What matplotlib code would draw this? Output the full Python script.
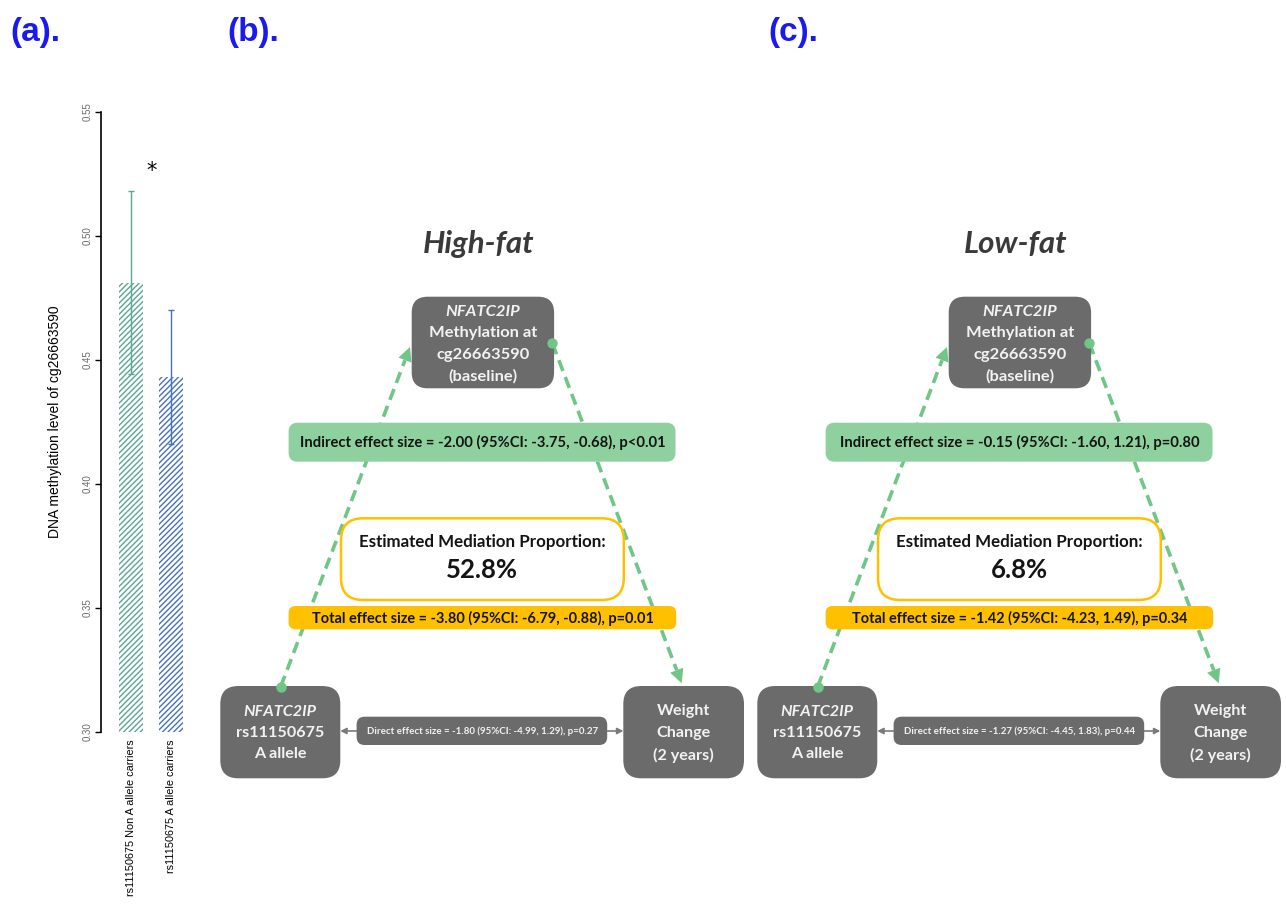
import numpy as np
import matplotlib
matplotlib.use("Agg")
import matplotlib.pyplot as plt
from matplotlib.patches import FancyBboxPatch, Polygon

plt.rcParams['hatch.linewidth'] = 1.0

# panel (a) data
groups = ["rs11150675 Non A allele carriers", "rs11150675 A allele carriers"]
meth_mean = [0.481, 0.443]
meth_err = [0.037, 0.027]
yticks = [0.30, 0.35, 0.40, 0.45, 0.50, 0.55]

# panels (b), (c) data
diets = ["High-fat", "Low-fat"]
indirect = [-2.00, -0.15]
indirect_ci = [(-3.75, -0.68), (-1.60, 1.21)]
indirect_p = ["p<0.01", "p=0.80"]
total = [-3.80, -1.42]
total_ci = [(-6.79, -0.88), (-4.23, 1.49)]
total_p = ["p=0.01", "p=0.34"]
direct = [-1.80, -1.27]
direct_ci = [(-4.99, 1.29), (-4.45, 1.83)]
direct_p = ["p=0.27", "p=0.44"]
mediation_pct = [52.8, 6.8]

W, H = 1286, 908
fig = plt.figure(figsize=(W / 100, H / 100), dpi=100)

# ---------------- (a) bar chart
ax = fig.add_axes([101 / W, 1 - 731.5 / H, 100 / W, 619.8 / H])
x = np.arange(len(groups))
bar_colors = ['#5aa88e', '#4671c0']
for i in range(len(groups)):
    ax.bar(x[i], meth_mean[i], width=0.615, color='none', edgecolor=bar_colors[i],
           hatch='//////', linewidth=0)
    ax.errorbar(x[i], meth_mean[i], yerr=meth_err[i], color=bar_colors[i],
                capsize=2.2, elinewidth=1.0, capthick=1.0)
ax.text(0.525, 0.5262, '*', ha='center', va='center', fontsize=15)
ax.set_xlim(-0.75, 1.75)
ax.set_ylim(0.30, 0.55)
ax.set_yticks(yticks, ['%.2f' % v for v in yticks])
ax.set_xticks(x, groups, rotation=90, fontsize=7.8, family='Liberation Sans', va='top')
ax.tick_params(axis='x', length=0, pad=6)
ax.tick_params(axis='y', length=4.3, width=1, pad=2, labelsize=7, labelcolor='#6a6a6a')
for lab in ax.get_yticklabels():
    lab.set_rotation(90)
    lab.set_va('center')
    lab.set_family('Liberation Sans')
for s in ['top', 'right', 'bottom']:
    ax.spines[s].set_visible(False)
ax.spines['left'].set_linewidth(1.2)
fig.text(55 / W, 1 - 421.6 / H, 'DNA methylation level of cg26663590', rotation=90,
         ha='center', va='center', fontsize=10, family='Liberation Sans')

# panel labels
for lbl, px in zip(['(a).', '(b).', '(c).'], [10, 227, 768]):
    fig.text(px / W, 1 - 32 / H, lbl, ha='left', va='center', fontsize=24,
             fontweight='bold', color='#1a1aee', family='Liberation Sans')

# ---------------- (b), (c) mediation diagrams
dax = fig.add_axes([0, 0, 1, 1])
dax.set_xlim(0, W)
dax.set_ylim(H, 0)
dax.axis('off')
renderer = fig.canvas.get_renderer()
FONT = ['Lato', 'DejaVu Sans']
GRAY = '#6b6b6b'
BOXTXT = '#f2f2f2'


def box(x0, x1, y0, y1, fc, r, ec='none', lw=0, z=2):
    dax.add_patch(FancyBboxPatch((x0, y0), x1 - x0, y1 - y0,
                                 boxstyle="round,pad=0,rounding_size=%g" % r,
                                 fc=fc, ec=ec, lw=lw, zorder=z))


def txt(xc, yc, s, size, **kw):
    return dax.text(xc, yc, s, ha='center', va='center', fontsize=size,
                    family=FONT, zorder=5, **kw)


def fit_size(s, width, **kw):
    t = dax.text(0, 0, s, fontsize=10, family=FONT, **kw)
    w = t.get_window_extent(renderer).width
    t.remove()
    return 10 * width / w


def dashed_arrow(x0, y0, x1, y1, color='#70c686'):
    u = np.array([x1 - x0, y1 - y0])
    L = np.hypot(*u)
    u = u / L
    n = np.array([-u[1], u[0]])
    hl, hw = 14, 7
    base = np.array([x1, y1]) - hl * u
    dax.plot([x0, base[0]], [y0, base[1]], color=color, lw=2.6, dashes=(3.2, 1.8),
             solid_capstyle='butt', zorder=1)
    dax.plot([x0], [y0], 'o', color=color, ms=6.5, zorder=4)
    dax.add_patch(Polygon([[x1, y1], base + hw * n, base - hw * n], closed=True,
                          fc=color, ec='none', zorder=4))


def small_arrow(xs, xe, y):
    dax.annotate('', xy=(xe, y), xytext=(xs, y),
                 arrowprops=dict(arrowstyle='-|>,head_length=0.35,head_width=0.18',
                                 color='#7a7a7a', lw=1.2, shrinkA=0, shrinkB=0), zorder=3)


# font sizes from panel (b) text widths
sz_title = fit_size(diets[0], 112, fontweight='bold', style='italic')
sz_top = fit_size('Methylation at', 108.6, fontweight='bold')
sz_bottom = fit_size('rs11150675', 88, fontweight='bold')
ind_str = ["Indirect effect size = %.2f (95%%CI: %.2f, %.2f), %s"
           % (indirect[k], indirect_ci[k][0], indirect_ci[k][1], indirect_p[k]) for k in range(2)]
tot_str = ["Total effect size = %.2f (95%%CI: %.2f, %.2f), %s"
           % (total[k], total_ci[k][0], total_ci[k][1], total_p[k]) for k in range(2)]
dir_str = ["Direct effect size = %.2f (95%%CI: %.2f, %.2f), %s"
           % (direct[k], direct_ci[k][0], direct_ci[k][1], direct_p[k]) for k in range(2)]
sz_ind = fit_size(ind_str[0], 365, fontweight='bold')
sz_tot = fit_size(tot_str[0], 342, fontweight='bold')
sz_dir = fit_size(dir_str[0], 232, fontweight='bold')
sz_emp = fit_size('Estimated Mediation Proportion:', 247, fontweight='bold')
sz_pct = fit_size('%.1f%%' % mediation_pct[0], 71.7, fontweight='bold')

for k in range(2):
    dx = 537 * k
    txt(478.5 + dx, 244, diets[k], sz_title, fontweight='bold', style='italic', color='#3a3a3a')

    # dashed indirect path
    dashed_arrow(280.7 + dx, 686.7, 410 + dx, 347)
    dashed_arrow(552.4 + dx, 343.3, 681.7 + dx, 683.3)

    # methylation node
    box(411.7 + dx, 554.1 + dx, 296.7, 388.3, GRAY, 16)
    for j, (s, yy) in enumerate(zip(['NFATC2IP', 'Methylation at', 'cg26663590', '(baseline)'],
                                    [311.7, 333.3, 355, 376.7])):
        txt(482.9 + dx, yy, s, sz_top, fontweight='bold', color=BOXTXT,
            style='italic' if j == 0 else 'normal')

    # indirect effect
    box(288.6 + dx, 675.5 + dx, 422.7, 461.7, '#8fd19e', 9)
    txt(483 + dx, 442.5, ind_str[k], sz_ind, fontweight='bold', color='#141414')

    # mediation proportion
    box(341 + dx, 623.8 + dx, 518.3, 600, 'white', 22, ec='#ffc000', lw=1.8)
    txt(482.4 + dx, 541.7, 'Estimated Mediation Proportion:', sz_emp, fontweight='bold',
        color='#141414')
    txt(482.4 + dx, 570, '%.1f%%' % mediation_pct[k], sz_pct, fontweight='bold', color='#141414')

    # total effect
    box(288.6 + dx, 676.2 + dx, 606, 629.3, '#ffc000', 7)
    txt(482.8 + dx, 618, tot_str[k], sz_tot, fontweight='bold', color='#141414')

    # SNP node
    box(220.3 + dx, 340.3 + dx, 686, 778.3, GRAY, 18)
    for j, (s, yy) in enumerate(zip(['NFATC2IP', 'rs11150675', 'A allele'], [711.7, 732.7, 754])):
        txt(280.3 + dx, yy, s, sz_bottom, fontweight='bold', color=BOXTXT,
            style='italic' if j == 0 else 'normal')

    # weight node
    box(623.3 + dx, 744 + dx, 686, 778.3, GRAY, 18)
    for s, yy in zip(['Weight', 'Change', '(2 years)'], [710.7, 733.3, 755]):
        txt(683.7 + dx, yy, s, sz_bottom, fontweight='bold', color=BOXTXT)

    # direct effect
    box(356.6 + dx, 607.2 + dx, 716.7, 745, GRAY, 8)
    txt(482.9 + dx, 731, dir_str[k], sz_dir, fontweight='bold', color=BOXTXT)
    small_arrow(356.6 + dx, 340.3 + dx, 731)
    small_arrow(607.2 + dx, 623.3 + dx, 731)

fig.savefig('out.png', dpi=100)
